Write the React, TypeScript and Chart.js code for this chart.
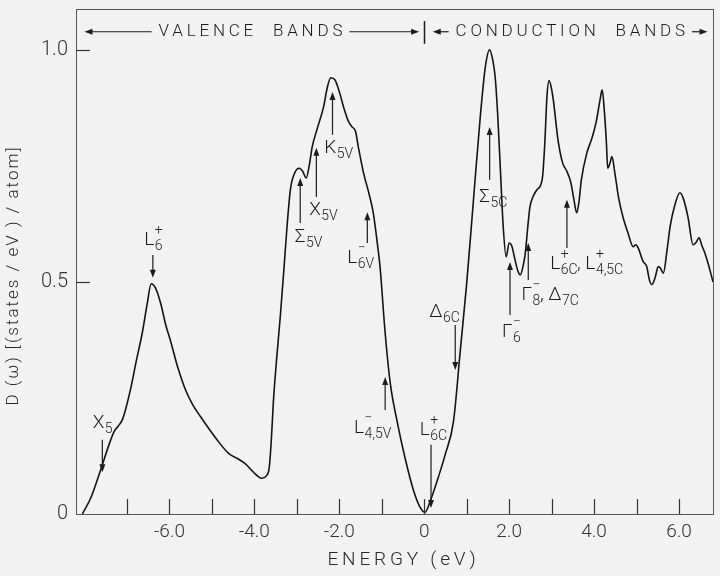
import React, { useEffect, useRef } from "react";
import { Chart, registerables } from "chart.js";
Chart.register(...registerables);

// ---- curve data: energy (eV) and density of states ----
const energy = [
  -8.05, -7.85, -7.62, -7.42, -7.3, -7.2, -7.1, -6.92, -6.78, -6.64, -6.52, -6.43, -6.33, -6.21, -6.08, -5.98,
  -5.8, -5.62, -5.45, -5.27, -4.88, -4.6, -4.41, -4.21, -4.02, -3.9, -3.82, -3.72, -3.65, -3.6, -3.55, -3.47,
  -3.39, -3.31, -3.23, -3.15, -3.05, -2.94, -2.86, -2.78, -2.7, -2.64, -2.52, -2.37, -2.28, -2.2, -2.1, -2.0,
  -1.9, -1.78, -1.7, -1.62, -1.55, -1.43, -1.3, -1.2, -1.1, -1.04, -0.92, -0.8, -0.64, -0.45, -0.25, -0.1,
  0.02, 0.15, 0.3, 0.5, 0.69, 0.85, 1.0, 1.16, 1.32, 1.44, 1.54, 1.62, 1.67, 1.73, 1.79, 1.86,
  1.93, 2.0, 2.06, 2.12, 2.2, 2.26, 2.33, 2.38, 2.44, 2.49, 2.57, 2.65, 2.78, 2.84, 2.89, 2.94,
  3.0, 3.04, 3.15, 3.26, 3.35, 3.45, 3.52, 3.59, 3.64, 3.7, 3.83, 3.95, 4.05, 4.14, 4.19, 4.24,
  4.29, 4.32, 4.37, 4.42, 4.49, 4.58, 4.68, 4.8, 4.92, 4.98, 5.04, 5.15, 5.24, 5.3, 5.36, 5.44,
  5.51, 5.56, 5.63, 5.72, 5.79, 5.9, 6.02, 6.1, 6.21, 6.33, 6.4, 6.47, 6.54, 6.61, 6.7, 6.8,
];
const dos = [
  0.0, 0.035, 0.095, 0.15, 0.178, 0.19, 0.205, 0.267, 0.33, 0.39, 0.455, 0.496, 0.487, 0.455, 0.405, 0.375,
  0.315, 0.267, 0.235, 0.21, 0.16, 0.13, 0.12, 0.108, 0.09, 0.08, 0.077, 0.082, 0.1, 0.16, 0.245, 0.34,
  0.425, 0.52, 0.62, 0.7, 0.735, 0.745, 0.738, 0.724, 0.755, 0.79, 0.83, 0.877, 0.92, 0.94, 0.935, 0.91,
  0.877, 0.845, 0.834, 0.825, 0.79, 0.735, 0.69, 0.649, 0.58, 0.532, 0.39, 0.282, 0.2, 0.12, 0.05, 0.015,
  0.004, 0.03, 0.07, 0.13, 0.2, 0.353, 0.497, 0.677, 0.856, 0.964, 1.0, 0.975, 0.942, 0.86, 0.749, 0.619,
  0.554, 0.584, 0.578, 0.555, 0.525, 0.515, 0.535, 0.562, 0.62, 0.662, 0.685, 0.698, 0.722, 0.8, 0.9, 0.934,
  0.915, 0.892, 0.806, 0.756, 0.74, 0.715, 0.68, 0.649, 0.67, 0.72, 0.778, 0.81, 0.845, 0.892, 0.914, 0.87,
  0.8, 0.745, 0.755, 0.77, 0.734, 0.68, 0.64, 0.605, 0.576, 0.58, 0.573, 0.545, 0.533, 0.505, 0.494, 0.51,
  0.533, 0.53, 0.519, 0.57, 0.619, 0.665, 0.692, 0.68, 0.64, 0.58, 0.585, 0.595, 0.578, 0.562, 0.535, 0.5,
];

// ---- axes ----
const xMin = -8.2;
const xMax = 6.8;
const yMin = 0;
const yMax = 1.088;
const xTickValues = [-7, -6, -5, -4, -3, -2, -1, 0, 1, 2, 3, 4, 5, 6];
const xTickLabels = ["", "-6.0", "", "-4.0", "", "-2.0", "", "0", "", "2.0", "", "4.0", "", "6.0"];
const yTickValues = [0, 0.5, 1.0];
const yTickLabels = ["0", "0.5", "1.0"];
const xTitle = "ENERGY (eV)";
const yTitle = "D (ω) [(states / eV ) / atom]";

// ---- critical point annotations ----
const annoLabels = [
  "X_{5}", "L^{+}_{6}", "Σ_{5V}", "X_{5V}", "K_{5V}", "L^{−}_{6V}", "L^{−}_{4,5V}",
  "L^{+}_{6C}", "Δ_{6C}", "Σ_{5C}", "Γ^{−}_{6}", "Γ^{−}_{8}, Δ_{7C}", "L^{+}_{6C}, L^{+}_{4,5C}",
];
const annoArrowE = [-7.58, -6.39, -2.92, -2.54, -2.16, -1.34, -0.92, 0.16, 0.73, 1.54, 2.02, 2.45, 3.36];
const annoTailD = [0.16, 0.558, 0.627, 0.683, 0.817, 0.584, 0.224, 0.149, 0.407, 0.72, 0.429, 0.504, 0.573];
const annoTipD = [0.09, 0.509, 0.724, 0.789, 0.909, 0.65, 0.295, 0.013, 0.31, 0.834, 0.543, 0.584, 0.677];
const annoLabelE = [-7.58, -6.38, -2.73, -2.38, -2.02, -1.5, -1.22, 0.21, 0.47, 1.62, 2.05, 2.96, 3.82];
const annoLabelD = [0.185, 0.58, 0.586, 0.644, 0.778, 0.54, 0.175, 0.17, 0.425, 0.672, 0.381, 0.46, 0.528];

// ---- band headers ----
const bandLabels = ["VALENCE  BANDS", "CONDUCTION  BANDS"];
const bandCenterE = [-4.09, 3.44];
const bandStartE = [-8.0, 0.2];
const bandEndE = [-0.12, 6.67];
const bandD = 1.039;
const bandDividerE = 0;

const FONT = "Roboto, 'Open Sans', 'DejaVu Sans', sans-serif";
const INK = "#1c1c1c";

type Seg = { m: string; sub: string; sup: string };
function parseLabel(s: string): Seg[] {
  const segs: Seg[] = [];
  let i = 0;
  while (i < s.length) {
    const c = s[i];
    if ((c === "_" || c === "^") && s[i + 1] === "{") {
      const end = s.indexOf("}", i);
      const txt = s.slice(i + 2, end);
      const last = segs[segs.length - 1];
      if (last) {
        if (c === "_") last.sub = txt;
        else last.sup = txt;
      }
      i = end + 1;
    } else {
      segs.push({ m: c, sub: "", sup: "" });
      i++;
    }
  }
  return segs;
}

function drawLabel(ctx: CanvasRenderingContext2D, cx: number, base: number, label: string) {
  const segs = parseLabel(label);
  const mainFont = `300 19px ${FONT}`;
  const smallFont = `300 14px ${FONT}`;
  let total = 0;
  const widths = segs.map((sg) => {
    ctx.font = mainFont;
    const mw = ctx.measureText(sg.m).width;
    ctx.font = smallFont;
    const sw = Math.max(sg.sub ? ctx.measureText(sg.sub).width : 0, sg.sup ? ctx.measureText(sg.sup).width : 0);
    total += mw + sw;
    return [mw, sw];
  });
  let x = cx - total / 2;
  ctx.fillStyle = INK;
  ctx.textBaseline = "alphabetic";
  ctx.textAlign = "left";
  segs.forEach((sg, k) => {
    ctx.font = mainFont;
    ctx.fillText(sg.m, x, base);
    x += widths[k][0];
    ctx.font = smallFont;
    if (sg.sup) ctx.fillText(sg.sup, x + 0.5, base - 11);
    if (sg.sub) ctx.fillText(sg.sub, x + 0.5, base + 5);
    x += widths[k][1];
  });
}

function arrow(ctx: CanvasRenderingContext2D, x1: number, y1: number, x2: number, y2: number) {
  const ang = Math.atan2(y2 - y1, x2 - x1);
  const L = 8;
  const W = 3;
  ctx.beginPath();
  ctx.moveTo(x1, y1);
  ctx.lineTo(x2 - Math.cos(ang) * L * 0.8, y2 - Math.sin(ang) * L * 0.8);
  ctx.stroke();
  ctx.beginPath();
  ctx.moveTo(x2, y2);
  ctx.lineTo(x2 - Math.cos(ang) * L - Math.sin(ang) * W, y2 - Math.sin(ang) * L + Math.cos(ang) * W);
  ctx.lineTo(x2 - Math.cos(ang) * L + Math.sin(ang) * W, y2 - Math.sin(ang) * L - Math.cos(ang) * W);
  ctx.closePath();
  ctx.fill();
}

const decorPlugin = {
  id: "decor",
  afterDraw(chart: any) {
    const ctx: CanvasRenderingContext2D = chart.ctx;
    const xs = chart.scales.x;
    const ys = chart.scales.y;
    const a = chart.chartArea;
    ctx.save();
    // frame
    ctx.strokeStyle = "#555";
    ctx.lineWidth = 1;
    ctx.strokeRect(Math.round(a.left) + 0.5, Math.round(a.top) + 0.5, Math.round(a.right - a.left), Math.round(a.bottom - a.top));
    // inward ticks
    ctx.strokeStyle = "#333";
    ctx.lineWidth = 1.2;
    xs.ticks.forEach((t: any) => {
      const px = Math.round(xs.getPixelForValue(t.value)) + 0.5;
      ctx.beginPath();
      ctx.moveTo(px, a.bottom);
      ctx.lineTo(px, a.bottom - 15);
      ctx.stroke();
    });
    ys.ticks.forEach((t: any) => {
      if (t.value <= 0) return;
      const py = Math.round(ys.getPixelForValue(t.value)) + 0.5;
      ctx.beginPath();
      ctx.moveTo(a.left, py);
      ctx.lineTo(a.left + 14, py);
      ctx.stroke();
    });

    // annotations
    ctx.strokeStyle = INK;
    ctx.fillStyle = INK;
    ctx.lineWidth = 1.2;
    annoLabels.forEach((lab, i) => {
      const ax = xs.getPixelForValue(annoArrowE[i]);
      arrow(ctx, ax, ys.getPixelForValue(annoTailD[i]), ax, ys.getPixelForValue(annoTipD[i]));
      drawLabel(ctx, xs.getPixelForValue(annoLabelE[i]), ys.getPixelForValue(annoLabelD[i]), lab);
    });

    // band headers
    const by = ys.getPixelForValue(bandD);
    ctx.font = `300 17px ${FONT}`;
    (ctx as any).letterSpacing = "3.8px";
    ctx.textAlign = "center";
    ctx.textBaseline = "middle";
    bandLabels.forEach((lab, i) => {
      const cx = xs.getPixelForValue(bandCenterE[i]);
      const w = ctx.measureText(lab).width;
      ctx.fillStyle = INK;
      ctx.fillText(lab, cx + 1.9, by);
      const gap = 5;
      arrow(ctx, cx - w / 2 - gap, by, xs.getPixelForValue(bandStartE[i]), by);
      arrow(ctx, cx + w / 2 + gap, by, xs.getPixelForValue(bandEndE[i]), by);
    });
    const dx = Math.round(xs.getPixelForValue(bandDividerE)) + 0.5;
    ctx.lineWidth = 1.5;
    ctx.beginPath();
    ctx.moveTo(dx, ys.getPixelForValue(1.062));
    ctx.lineTo(dx, ys.getPixelForValue(1.013));
    ctx.stroke();

    // axis titles
    ctx.fillStyle = "#2a2a2a";
    ctx.font = `300 19px ${FONT}`;
    (ctx as any).letterSpacing = "3.8px";
    ctx.textAlign = "center";
    ctx.textBaseline = "middle";
    ctx.fillText(xTitle, (a.left + a.right) / 2 + 9, 560);
    ctx.save();
    ctx.translate(14, (a.top + a.bottom) / 2 + 14);
    ctx.rotate(-Math.PI / 2);
    ctx.font = `300 17px ${FONT}`;
    (ctx as any).letterSpacing = "2px";
    ctx.fillText(yTitle, 0, 0);
    ctx.restore();
    (ctx as any).letterSpacing = "0px";
    ctx.restore();
  },
};

export default function App() {
  const ref = useRef<HTMLCanvasElement>(null);
  useEffect(() => {
    document.body.style.margin = "0";
    document.body.style.background = "#f2f2f2";
    const points = energy.map((e, i) => ({ x: e, y: dos[i] }));
    const chart = new Chart(ref.current as HTMLCanvasElement, {
      type: "line",
      data: {
        datasets: [
          {
            data: points,
            borderColor: "#141414",
            borderWidth: 1.6,
            pointRadius: 0,
            cubicInterpolationMode: "monotone",
            fill: false,
          },
        ],
      },
      options: {
        responsive: false,
        animation: false,
        events: [],
        layout: { padding: { top: 9, right: 7, left: 0, bottom: 0 } },
        plugins: { legend: { display: false }, tooltip: { enabled: false } },
        scales: {
          x: {
            type: "linear",
            min: xMin,
            max: xMax,
            afterBuildTicks: (s: any) => {
              s.ticks = xTickValues.map((v) => ({ value: v }));
            },
            afterFit: (s: any) => {
              s.height = 62;
              s.paddingLeft = 0;
              s.paddingRight = 0;
            },
            grid: { display: false, drawTicks: false },
            border: { display: false },
            ticks: {
              autoSkip: false,
              maxRotation: 0,
              minRotation: 0,
              padding: 7,
              color: "#333",
              font: { family: FONT, size: 19, weight: "300" as any },
              callback: (v: any) => {
                const k = xTickValues.indexOf(Math.round(Number(v)));
                return k >= 0 ? xTickLabels[k] : "";
              },
            },
          },
          y: {
            type: "linear",
            min: yMin,
            max: yMax,
            afterBuildTicks: (s: any) => {
              s.ticks = yTickValues.map((v) => ({ value: v }));
            },
            afterFit: (s: any) => {
              s.width = 76;
              s.paddingTop = 0;
              s.paddingBottom = 0;
            },
            grid: { display: false, drawTicks: false },
            border: { display: false },
            ticks: {
              padding: 8,
              color: "#333",
              font: { family: FONT, size: 20, weight: "300" as any },
              callback: (v: any) => {
                const k = yTickValues.findIndex((t) => Math.abs(t - Number(v)) < 1e-6);
                return k >= 0 ? yTickLabels[k] : "";
              },
            },
          },
        },
      },
      plugins: [decorPlugin],
    });
    return () => chart.destroy();
  }, []);
  return (
    <div style={{ width: 720, height: 576, background: "#f2f2f2" }}>
      <canvas ref={ref} width={720} height={576} style={{ display: "block" }} />
    </div>
  );
}
